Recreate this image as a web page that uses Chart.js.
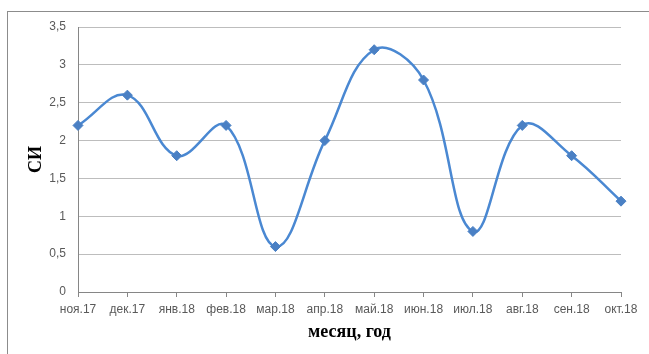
<!DOCTYPE html>
<html>
<head>
<meta charset="utf-8">
<script src="https://cdn.jsdelivr.net/npm/chart.js@4/dist/chart.umd.min.js"></script>
<style>
  html, body { margin: 0; padding: 0; background: #fff; overflow: hidden; }
  #wrap { position: relative; width: 649px; height: 354px; }
  #frame { position: absolute; left: 7px; top: 11px; width: 700px; height: 400px; border: 1px solid #8c8c8c; box-sizing: border-box; }
  canvas { position: absolute; left: 0; top: 0; }
</style>
</head>
<body>
<div id="wrap">
  <div id="frame"></div>
  <canvas id="graphique" width="649" height="354"></canvas>
</div>
<script>
// Données du graphique
const mois = ["ноя.17", "дек.17", "янв.18", "фев.18", "мар.18", "апр.18",
  "май.18", "июн.18", "июл.18", "авг.18", "сен.18", "окт.18"];
const valeursSI = [2.2, 2.6, 1.8, 2.2, 0.6, 2.0, 3.2, 2.8, 0.8, 2.2, 1.8, 1.2];
const titreX = "месяц, год";
const titreY = "СИ";

const policeTicks = { family: "'Liberation Sans', Arial, sans-serif", size: 12 };
const policeTitre = { family: "'Liberation Serif', 'Times New Roman', serif", size: 18, weight: "bold" };

const data = {
  labels: mois,
  datasets: [{
    data: valeursSI,
    borderColor: "#4a88d2",
    backgroundColor: "#4a80c4",
    borderWidth: 2.5,
    tension: 0.4,
    pointStyle: "rectRot",
    pointRadius: 5,
    pointBorderWidth: 1,
    pointBorderColor: "#4a80c4",
    pointBackgroundColor: "#4a80c4",
  }],
};

const config = {
  type: "line",
  data: data,
  options: {
    responsive: false,
    animation: false,
    layout: { padding: { left: 0, right: 28, top: 27, bottom: 0 } },
    plugins: { legend: { display: false }, tooltip: { enabled: false } },
    scales: {
      x: {
        offset: false,
        grid: { drawOnChartArea: false, drawTicks: true, tickLength: 5, color: "#868686" },
        border: { color: "#868686" },
        ticks: { color: "#595959", font: policeTicks, padding: 5, autoSkip: false, maxRotation: 0 },
        title: { display: true, text: titreX, color: "#000", font: policeTitre, padding: { top: 0, bottom: 11 } },
        afterFit: (scale) => { scale.height = 62; },
      },
      y: {
        min: 0,
        max: 3.5,
        grid: { color: "#bdbdbd", drawTicks: false },
        border: { color: "#868686" },
        ticks: {
          stepSize: 0.5,
          color: "#595959",
          font: policeTicks,
          padding: 12,
          callback: (v) => String(v).replace(".", ","),
        },
        title: { display: true, text: titreY, color: "#000", font: policeTitre, padding: { top: 26, bottom: 0 } },
        afterFit: (scale) => { scale.width = 78; },
      },
    },
  },
};

new Chart(document.querySelector("#graphique"), config);
</script>
</body>
</html>
